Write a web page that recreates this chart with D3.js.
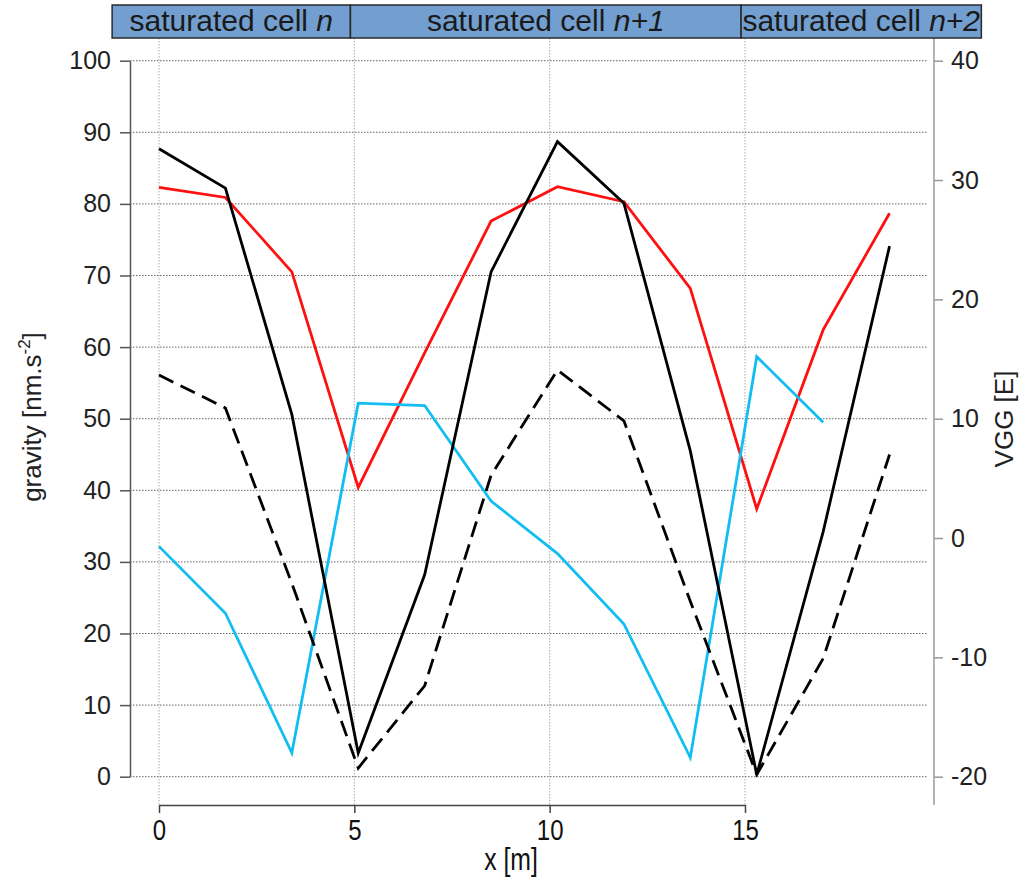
<!DOCTYPE html>
<html>
<head>
<meta charset="utf-8">
<script src="https://cdn.jsdelivr.net/npm/d3@7"></script>
<style>
  html, body { margin: 0; padding: 0; background: #fff; }
  svg { display: block; }
</style>
</head>
<body>
<svg id="chart" width="1027" height="881"></svg>
<script>
// ---- data ----
const xPos = [0, 1.7, 3.4, 5.1, 6.8, 8.5, 10.2, 11.9, 13.6, 15.3, 17.0, 18.7];
// gravity [nm.s-2]
const gravitySolid  = [87.7, 82.2, 50.6, 3.3, 28.2, 70.5, 88.7, 80.1, 45.5, 0.3, 34.2, 74.1];
const gravityDashed = [56.1, 51.5, 27.0, 1.2, 12.7, 42.1, 56.8, 49.7, 24.5, 0.3, 16.5, 45.0];
const gravityRed    = [82.3, 80.9, 70.5, 40.4, 59.2, 77.6, 82.4, 80.3, 68.2, 37.4, 62.4, 78.7];
// VGG [E]
const vggCyan = [-0.7, -6.3, -18.0, 11.3, 11.1, 3.1, -1.3, -7.2, -18.4, 15.2, 9.7];

const xTicks = [0, 5, 10, 15];
const leftTicks = [0, 10, 20, 30, 40, 50, 60, 70, 80, 90, 100];
const rightTicks = [-20, -10, 0, 10, 20, 30, 40];
const cellNames = ["n", "n+1", "n+2"];
const cellEdges = [-1.2, 4.9, 14.9, 21.05];

// ---- layout ----
const svg = d3.select("#chart");
const x = d3.scaleLinear().domain([0, 15]).range([159, 745]);
const yL = d3.scaleLinear().domain([0, 100]).range([776.7, 60.7]);
const yR = d3.scaleLinear().domain([-20, 40]).range([776.7, 60.7]);
const axisLeftX = 130, axisRightX = 934, axisBottomY = 805;
const plotTop = 38, gridRight = 928;
const sans = "'Liberation Sans', Arial, Helvetica, sans-serif";
const plain = d => String(d);

// grid: vertical
svg.append("g").selectAll("line").data(xTicks).join("line")
  .attr("x1", d => x(d)).attr("x2", d => x(d))
  .attr("y1", plotTop).attr("y2", axisBottomY)
  .attr("stroke", "#aaa").attr("stroke-width", 1).attr("stroke-dasharray", "1.5,1.5");
// grid: horizontal
svg.append("g").selectAll("line").data(leftTicks).join("line")
  .attr("x1", axisLeftX).attr("x2", gridRight)
  .attr("y1", d => yL(d)).attr("y2", d => yL(d))
  .attr("stroke", "#666").attr("stroke-width", 1).attr("stroke-dasharray", "1.5,1.5");

// left axis
const gL = svg.append("g").attr("transform", `translate(${axisLeftX},0)`)
  .call(d3.axisLeft(yL).tickValues(leftTicks).tickFormat(plain).tickSize(10).tickPadding(9).tickSizeOuter(0));
gL.select(".domain").attr("stroke", "#555").attr("stroke-width", 1.5);
gL.selectAll(".tick line").attr("stroke", "#555").attr("stroke-width", 1.5);
gL.selectAll(".tick text").attr("font-family", sans).attr("font-size", 25).attr("fill", "#222");

// right axis
const gR = svg.append("g").attr("transform", `translate(${axisRightX},0)`)
  .call(d3.axisRight(yR).tickValues(rightTicks).tickFormat(plain).tickSize(9).tickPadding(8).tickSizeOuter(0));
gR.select(".domain").remove();
gR.append("line").attr("x1", 0).attr("x2", 0).attr("y1", plotTop).attr("y2", axisBottomY)
  .attr("stroke", "#999").attr("stroke-width", 1.5);
gR.selectAll(".tick line").attr("stroke", "#999").attr("stroke-width", 1.5);
gR.selectAll(".tick text").attr("font-family", sans).attr("font-size", 25).attr("fill", "#222");

// bottom axis (condensed lettering)
const gB = svg.append("g").attr("transform", `translate(0,${axisBottomY})`)
  .call(d3.axisBottom(x).tickValues(xTicks).tickFormat(plain).tickSize(8).tickPadding(6).tickSizeOuter(0));
gB.select(".domain").attr("stroke", "#444").attr("stroke-width", 1.5);
gB.selectAll(".tick line").attr("stroke", "#444").attr("stroke-width", 1.5);
gB.selectAll(".tick text").attr("font-family", sans).attr("font-size", 30).attr("fill", "#111")
  .attr("transform", "scale(0.8,1)");

// axis titles
svg.append("text").attr("transform", "translate(511,870) scale(0.8,1)")
  .attr("text-anchor", "middle").attr("font-family", sans).attr("font-size", 31).attr("fill", "#111")
  .text("x [m]");
const gt = svg.append("text").attr("transform", "translate(41,417) rotate(-90)")
  .attr("text-anchor", "middle").attr("font-family", sans).attr("font-size", 26).attr("fill", "#222");
gt.append("tspan").text("gravity [nm.s");
gt.append("tspan").attr("font-size", 17).attr("dy", -11).text("-2");
gt.append("tspan").attr("dy", 11).text("]");
svg.append("text").attr("transform", "translate(1013,419) rotate(-90)")
  .attr("text-anchor", "middle").attr("font-family", sans).attr("font-size", 26).attr("fill", "#222")
  .text("VGG [E]");

// lines
const lineL = d3.line().x((d, i) => x(xPos[i])).y(d => yL(d));
const lineR = d3.line().x((d, i) => x(xPos[i])).y(d => yR(d));
svg.append("path").datum(gravityRed).attr("d", lineL)
  .attr("fill", "none").attr("stroke", "#ff1010").attr("stroke-width", 2.8);
svg.append("path").datum(vggCyan).attr("d", lineR)
  .attr("fill", "none").attr("stroke", "#12bdf2").attr("stroke-width", 2.8);
svg.append("path").datum(gravityDashed).attr("d", lineL)
  .attr("fill", "none").attr("stroke", "#000").attr("stroke-width", 2.8).attr("stroke-dasharray", "16,8");
svg.append("path").datum(gravitySolid).attr("d", lineL)
  .attr("fill", "none").attr("stroke", "#000").attr("stroke-width", 2.8);

// header band
const cells = cellNames.map((n, i) => ({ name: n, a: cellEdges[i], b: cellEdges[i + 1] }));
const hb = svg.append("g");
hb.selectAll("rect").data(cells).join("rect")
  .attr("x", d => x(d.a)).attr("width", d => x(d.b) - x(d.a))
  .attr("y", 5).attr("height", 33)
  .attr("fill", "#729fcf").attr("stroke", "#2a2a2a").attr("stroke-width", 1.5);
const ht = hb.selectAll("text").data(cells).join("text")
  .attr("x", d => (x(d.a) + x(d.b)) / 2).attr("y", 31)
  .attr("text-anchor", "middle").attr("font-family", sans).attr("font-size", 30).attr("fill", "#1a1a1a");
ht.append("tspan").text("saturated cell ");
ht.append("tspan").attr("font-style", "italic").text(d => d.name);
</script>
</body>
</html>
